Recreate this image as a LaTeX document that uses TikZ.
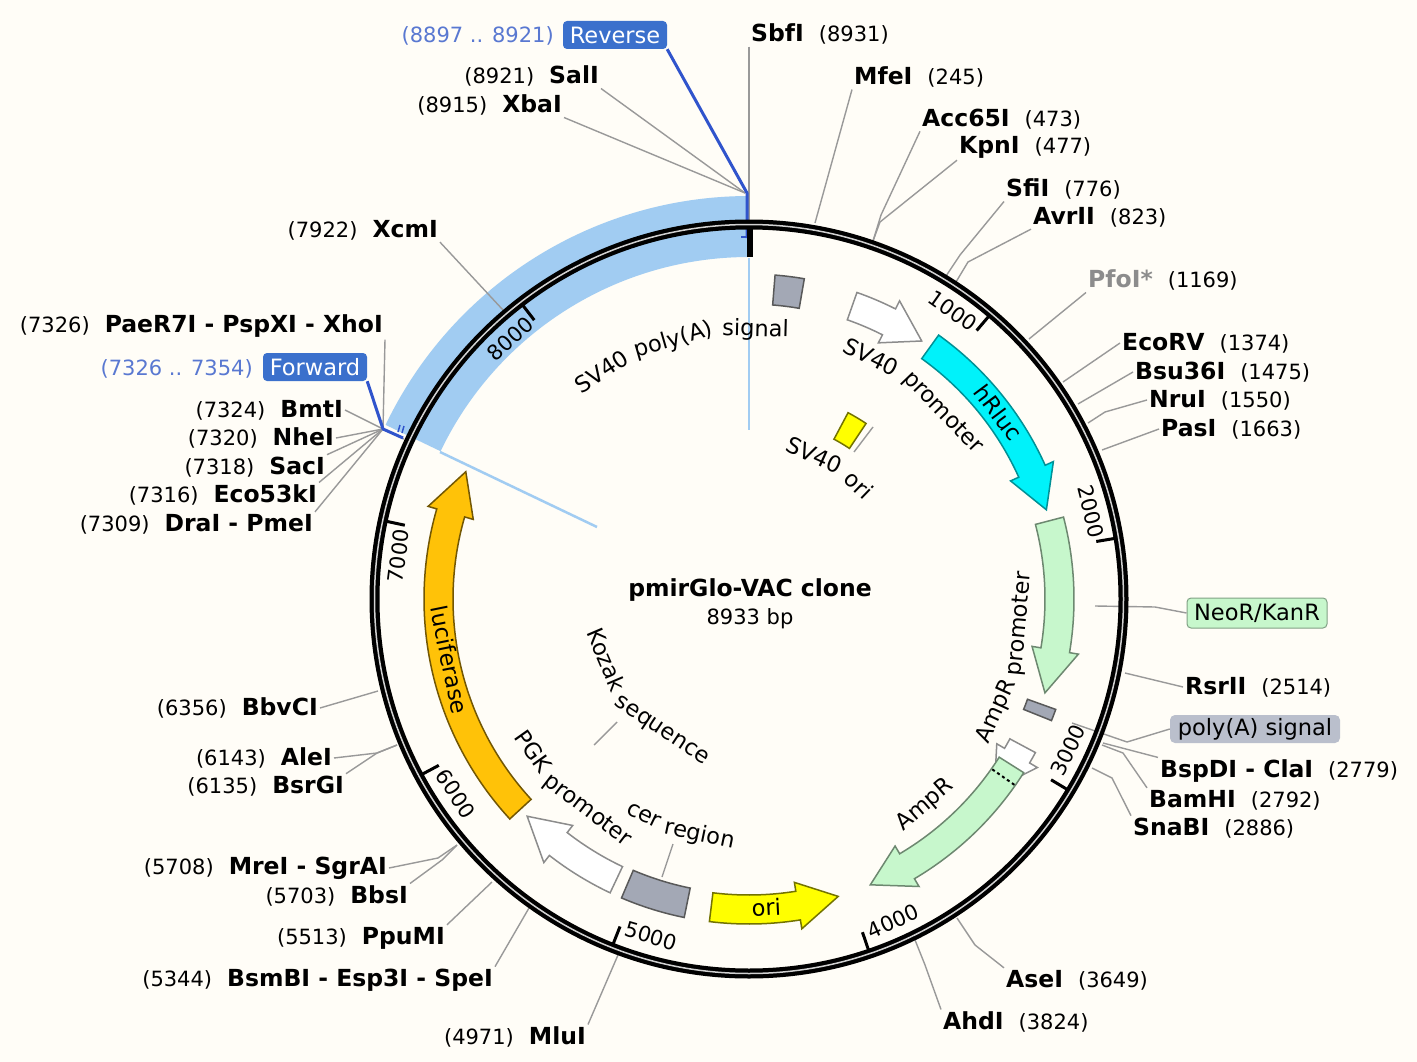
\documentclass[tikz,border=0pt]{standalone}
\usepackage{fontspec}
\setmainfont{DejaVu Sans}
\usetikzlibrary{calc}
\definecolor{BackClr}{rgb}{1,0.992,0.97}
\definecolor{RingGapClr}{rgb}{0.82,0.82,0.82}
\definecolor{LeaderClr}{rgb}{0.6,0.6,0.6}
\definecolor{PrimerClr}{rgb}{0.63,0.8,0.95}
\definecolor{PrimerBoxClr}{rgb}{0.23,0.44,0.8}
\definecolor{PrimerLineClr}{rgb}{0.19,0.33,0.8}
\definecolor{PrimerTxtClr}{rgb}{0.35,0.47,0.82}
\definecolor{GreyFeatClr}{rgb}{0.64,0.66,0.71}
\definecolor{GreenFeatClr}{rgb}{0.78,0.97,0.80}
\definecolor{OrangeFeatClr}{rgb}{1,0.76,0.03}
\definecolor{CyanFeatClr}{rgb}{0,0.95,0.98}
\definecolor{YellowFeatClr}{rgb}{1,1,0}
\definecolor{PolyBoxClr}{rgb}{0.73,0.75,0.80}
\definecolor{PfoClr}{rgb}{0.55,0.55,0.55}
\newcommand\NameFont{\fontsize{23.5}{27}\selectfont}
\newcommand\PosFont{\fontsize{21}{25}\selectfont}
\newcommand\LblFont{\fontsize{22.5}{26}\selectfont}
\newcommand\SiteL[2]{{\PosFont(#1)}\hspace{15pt}{\NameFont\bfseries #2}}
\newcommand\SiteR[2]{{\NameFont\bfseries #2}\hspace{15pt}{\PosFont(#1)}}
\newcommand\FeatArrow[4]{\draw[#1] ({90-#2}:325) arc[start angle={90-#2},end angle={90-#3},radius=325] -- ({90-#3}:334) -- ({90-#4}:310.5) -- ({90-#3}:287) -- ({90-#3}:296) arc[start angle={90-#3},end angle={90-#2},radius=296] -- cycle;}
\newcommand\FeatBox[5]{\draw[#1] ({90-#2}:#5) arc[start angle={90-#2},end angle={90-#3},radius=#5] -- ({90-#3}:#4) arc[start angle={90-#3},end angle={90-#2},radius=#4] -- cycle;}
\tikzset{
  leader/.style={draw=LeaderClr,line width=1.4pt},
  siteL/.style={anchor=east,inner sep=2pt,yshift=-1pt},
  siteR/.style={anchor=west,inner sep=2pt,yshift=-1pt},
  primerbox/.style={fill=PrimerBoxClr,text=white,rounded corners=4pt,minimum width=104pt,minimum height=28pt,inner sep=0pt,font=\LblFont},
  primertxt/.style={anchor=east,inner sep=2pt,text=PrimerTxtClr,font=\PosFont},
  primerline/.style={draw=PrimerLineClr,line width=3pt,line join=round},
  radial/.style={draw=PrimerClr,line width=2.5pt},
  featlbl/.style={font=\LblFont,inner sep=0pt},
  ticklbl/.style={font=\PosFont,inner sep=0pt},
  arclbl/.style={font=\LblFont,inner sep=0pt,anchor=base},
  greyfeat/.style={draw=black!65,fill=GreyFeatClr,line width=1.5pt},
  whitefeat/.style={draw=black!45,fill=white,line width=1.5pt},
  greenfeat/.style={draw=black!45!GreenFeatClr,fill=GreenFeatClr,line width=1.5pt}
}

\begin{document}
\begin{tikzpicture}[x=1pt,y=-1pt]
\fill[BackClr] (0,0) rectangle (1417,1062);
\useasboundingbox (0,0) rectangle (1417,1062);

\foreach \n/\x/\y/\p/\t in {SalI/601/75/8921/SalI,XbaI/564/104/8915/XbaI,XcmI/440/229/7922/XcmI,
  XhoI/385/325/7326/PaeR7I - PspXI - XhoI,BmtI/345/409/7324/BmtI,NheI/336/437/7320/NheI,
  SacI/327/466/7318/SacI,EcoK/319/494/7316/Eco53kI,DraI/315/523/7309/DraI - PmeI,
  BbvCI/320/707/6356/BbvCI,AleI/334/757/6143/AleI,BsrGI/346/785/6135/BsrGI,
  MreI/389/867/5708/MreI - SgrAI,BbsI/410/895/5703/BbsI,PpuMI/447/937/5513/PpuMI,
  BsmBI/495/979/5344/BsmBI - Esp3I - SpeI,MluI/588/1036/4971/MluI}
  \node[siteL] (\n) at (\x,\y) {\SiteL{\p}{\t}};

\foreach \n/\x/\y/\p/\t in {SbfI/749/33/8931/SbfI,MfeI/852/76/245/MfeI,AccI/920/118/473/Acc65I,
  KpnI/957/146/477/KpnI,SfiI/1004/188/776/SfiI,AvrII/1031/216/823/AvrII,
  EcoRV/1120/342/1374/EcoRV,BsuI/1133/371/1475/Bsu36I,NruI/1147/399/1550/NruI,PasI/1159/428/1663/PasI,
  RsrII/1183/686/2514/RsrII,BspDI/1158/770/2779/BspDI - ClaI,BamHI/1147/799/2792/BamHI,
  SnaBI/1131/827/2886/SnaBI,AseI/1004/979/3649/AseI,AhdI/941/1021/3824/AhdI}
  \node[siteR] (\n) at (\x,\y) {\SiteR{\p}{\t}};
\node[siteR] (PfoI) at (1086,279) {\SiteR{1169}{\textcolor{PfoClr}{PfoI*}}};

\node[primerbox] (Reverse) at (615,35) {Reverse};
\node[primertxt] (RevPos) at (556,35.5) {(8897 .. 8921)};
\node[primerbox] (Forward) at (315,367) {Forward};
\node[primertxt] (FwdPos) at (255,368.5) {(7326 .. 7354)};
\node[featlbl,draw=black!35!GreenFeatClr,fill=GreenFeatClr,rounded corners=4pt,line width=1pt,minimum width=140pt,minimum height=30pt] (NeoR) at (1257,613) {NeoR/KanR};
\node[featlbl,fill=PolyBoxClr,rounded corners=5pt,minimum width=170pt,minimum height=28pt] (PolyBox) at (1255,729) {poly(A) signal};
\node[font=\NameFont\bfseries,inner sep=0pt] (Title) at (750,590.5) {pmirGlo-VAC clone};
\node[font=\PosFont,inner sep=0pt] (Size) at (750,619) {8933 bp};

\foreach \n/\x/\y in {RevPt/747/193,RevEnd/747/238,FwdPt/383/429,FwdEnd/403/438,RingFwd/404/439,SitePt/745/193,
  SbfIpt/749/226,XcmIpt/503/310,MfeIpt/815/223,AccEl/881/215,KpnEl/880/222,AccPt/873/241,
  SfiEl/960/255,AvrEl/968/262,SfiPt/946/276,AvrPt/956/282,PfoPt/1029/339,EcoPt/1063/382,BsuPt/1078/404,
  NruEl/1105/412,NruPt/1088/423,PasPt/1102/450,NeoPt/1095/606,NeoEl/1155/607,RsrPt/1125/673,
  PolyEl/1127/742,PolyPt/1072/723,BspPt/1103/743,BamEl/1123/753,BamPt/1102/745,SnaEl/1112/778,SnaPt/1092/768,
  AseEl/975/945,AsePt/957/918,AhdEl/925/965,AhdPt/915/940,MluPt/618/955,BsmPt/529/908,PpuPt/492/882,
  MreEl/438/858,BbsEl/442/860,MrePt/457/845,AleEl/377/753,AlePt/397/745,BbvPt/378/691,
  OriLdA/873/427,OriLdB/854/452,KozA/617/722,KozB/594/745,CerA/673/844,CerB/662/877,
  VertA/749/258,VertB/749/430,DiagA/440/452,DiagB/597/527}
  \coordinate (\n) at (\x,\y);

\begin{scope}[shift={(749,599)},y=1pt]
\fill[PrimerClr] ({90-295.6}:403) arc[start angle={90-295.6},end angle={90-359.7},radius=403] -- ({90-359.7}:342) arc[start angle={90-359.7},end angle={90-295.6},radius=342] -- cycle;
\end{scope}
\draw[radial] (VertA) -- (VertB);
\draw[radial] (DiagA) -- (DiagB);

\draw[leader] (SbfI.south west) -- (SbfIpt);
\draw[leader] (SalI.south east) -- (SitePt);
\draw[leader] (XbaI.south east) -- (SitePt);
\draw[leader] (XcmI.south east) -- (XcmIpt);
\draw[leader] (MfeI.south west) -- (MfeIpt);
\draw[leader] (AccI.south west) -- (AccEl) -- (AccPt);
\draw[leader] (KpnI.south west) -- (KpnEl) -- (AccPt);
\draw[leader] (SfiI.south west) -- (SfiEl) -- (SfiPt);
\draw[leader] (AvrII.south west) -- (AvrEl) -- (AvrPt);
\draw[leader] (PfoI.south west) -- (PfoPt);
\draw[leader] (EcoRV.west) -- (EcoPt);
\draw[leader] (BsuI.west) -- (BsuPt);
\draw[leader] (NruI.west) -- (NruEl) -- (NruPt);
\draw[leader] (PasI.west) -- (PasPt);
\draw[leader] (NeoR.west) -- (NeoEl) -- (NeoPt);
\draw[leader] (RsrII.west) -- (RsrPt);
\draw[leader] (PolyBox.west) -- (PolyEl) -- (PolyPt);
\draw[leader] (BspDI.north west) -- (BspPt);
\draw[leader] (BamHI.north west) -- (BamEl) -- (BamPt);
\draw[leader] (SnaBI.north west) -- (SnaEl) -- (SnaPt);
\draw[leader] (AseI.north west) -- (AseEl) -- (AsePt);
\draw[leader] (AhdI.north west) -- (AhdEl) -- (AhdPt);
\draw[leader] (MluI.north east) -- (MluPt);
\draw[leader] (BsmBI.north east) -- (BsmPt);
\draw[leader] (PpuMI.north east) -- (PpuPt);
\draw[leader] (MreI.east) -- (MreEl) -- (MrePt);
\draw[leader] (BbsI.north east) -- (BbsEl) -- (MrePt);
\draw[leader] (AleI.east) -- (AleEl) -- (AlePt);
\draw[leader] (BsrGI.north east) -- (AleEl) -- (AlePt);
\draw[leader] (BbvCI.east) -- (BbvPt);
\draw[leader] (XhoI.south east) -- (FwdPt);
\draw[leader] (BmtI.east) -- (FwdPt);
\draw[leader] (NheI.east) -- (FwdPt);
\draw[leader] (SacI.north east) -- (FwdPt);
\draw[leader] (EcoK.north east) -- (FwdPt);
\draw[leader] (DraI.north east) -- (FwdPt);
\draw[leader] (FwdPt) -- (RingFwd);
\draw[leader] (OriLdA) -- (OriLdB);
\draw[leader] (KozA) -- (KozB);
\draw[leader] (CerA) -- (CerB);

\draw[primerline] (Reverse.south east) -- (RevPt) -- (RevEnd);
\draw[primerline] (Forward.south east) -- (FwdPt) -- (FwdEnd);
\draw[PrimerLineClr,line width=1.5pt] (398,432) -- (400,425) (402,433) -- (404,426);

\begin{scope}[shift={(749,599)},y=1pt]
\draw[black,line width=10pt] (0,0) circle[radius=374.5];
\draw[RingGapClr,line width=1.5pt] (0,0) circle[radius=374.5];
\foreach \bp/\th/\rr/\rot in {1000/35.3/353/-35.3,2000/75.7/353/-75.7,3000/115.3/353/64.7,4000/155.9/353/24.1,
  5000/196.2/351/-16.2,6000/236.4/352/-56.4,7000/277/353/83,8000/317.4/353/42.6}{
  \draw[black,line width=3pt] ({90-\bp/8933*360}:372) -- ({90-\bp/8933*360}:352);
  \node[ticklbl,rotate=\rot] (T\bp) at ({90-\th}:\rr) {\bp};
}
\FeatBox{greyfeat}{4.6}{9.8}{295}{325}
\FeatArrow{whitefeat}{19.4}{26.8}{33.8}
\FeatArrow{draw=black!40!CyanFeatClr,fill=CyanFeatClr,line width=1.5pt}{35.7}{65.7}{73.3}
\FeatBox{draw=black!55!YellowFeatClr,fill=YellowFeatClr,line width=1.5pt}{28}{33.7}{181}{211}
\FeatArrow{greenfeat}{75.4}{99.5}{107.6}
\FeatBox{greyfeat}{109.8}{111.9}{296}{326}
\FeatArrow{whitefeat}{118.2}{120.3}{127.8}
\FeatArrow{greenfeat}{122.3}{149.4}{157}
\draw[black,line width=2pt,dash pattern=on 3pt off 3pt] ({90-125}:297) -- ({90-125}:325);
\FeatArrow{draw=black!55!YellowFeatClr,fill=YellowFeatClr,line width=1.5pt}{187}{170.9}{163.3}
\FeatBox{greyfeat}{191.5}{203.1}{295}{325}
\FeatArrow{whitefeat}{205.3}{217.9}{225.6}
\FeatArrow{draw=black!55!OrangeFeatClr,fill=OrangeFeatClr,line width=1.5pt}{227.4}{286.1}{294.2}

\foreach \n/\th/\rr/\rot/\t in {PolySvA/-32.9/263/32.9/SV40,PolySvB/-16.2/263/16.2/poly(A),PolySvC/1.4/263/-1.4/signal,
  PromSvA/26.8/263/-26.8/SV40,PromSvB/46.1/263/-46.1/promoter,OriSvA/24.5/150/-24.5/SV40,OriSvB/44/150/-44/ori,
  HRluc/53.2/303/-53.2/hRluc,PromAmpA/114.5/278/65.5/AmpR,PromAmpB/95.3/278/84.7/promoter,
  AmpR/139.5/277/40.5/AmpR,CerLblA/205.9/247/-25.9/cer,CerLblB/191.8/247/-11.8/region,
  PgkA/234.8/272/-54.8/PGK,PgkB/217.4/272/-37.4/promoter,KozLblA/246.95/163/-66.95/Kozak,KozLblB/213.55/163/-33.55/sequence,
  Luc/258.5/314/-78.5/luciferase}
  \node[arclbl,rotate=\rot] (\n) at ({90-\th}:\rr) {\t};
\node[featlbl,rotate=3] (Ori) at ({90-176.8}:309) {ori};
\end{scope}

\fill[black] (747.3,226) rectangle (753.3,257);
\draw[PrimerLineClr,line width=1.5pt] (741,237) -- (747,237);
\end{tikzpicture}
\end{document}
